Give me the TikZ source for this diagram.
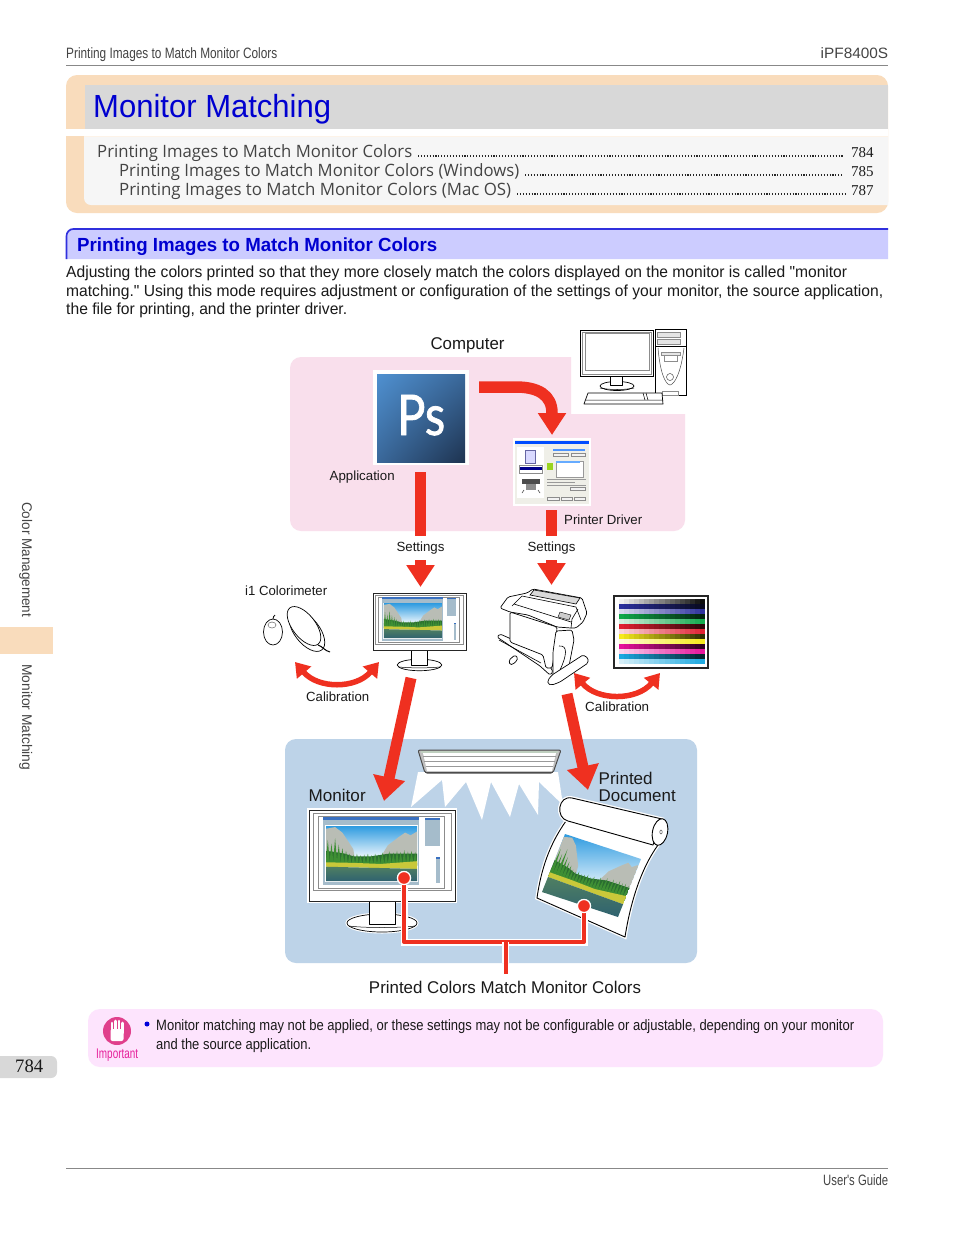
\documentclass[tikz,border=0pt]{standalone}
\usepackage{fontspec}
\usepackage{graphicx}
\setmainfont{Liberation Sans}
\newfontfamily\plainf{Liberation Sans}
\newfontfamily\tocf{Open Sans}
\newfontfamily\serf{Liberation Serif}
\newfontfamily\psf[FakeBold=1.3]{Lato}
\usetikzlibrary{arrows.meta,shapes.geometric,shadings}
\definecolor{peach}{HTML}{F9DCBC}
\definecolor{titlegray}{HTML}{D8D8D8}
\definecolor{tocbg}{HTML}{F6F6F6}
\definecolor{titleblue}{HTML}{0000D0}
\definecolor{secbg}{HTML}{CCCCFF}
\definecolor{secline}{HTML}{3030DD}
\definecolor{ink}{HTML}{1A1A1A}
\definecolor{greytext}{HTML}{444444}
\definecolor{hair}{HTML}{888888}
\definecolor{pinkpanel}{HTML}{F9DFEC}
\definecolor{bluepanel}{HTML}{BDD3E8}
\definecolor{arrowred}{HTML}{EF3020}
\definecolor{notebg}{HTML}{FDE4FD}
\definecolor{notemag}{HTML}{E6209A}
\definecolor{iconmag}{HTML}{E0408C}
\definecolor{panelblue}{HTML}{A5BCCB}
\definecolor{barblue}{HTML}{3A70C0}
\definecolor{cbl}{HTML}{2A2F9C}
\definecolor{cgr}{HTML}{0FA84A}
\definecolor{crd}{HTML}{E01F30}
\definecolor{cyl}{HTML}{F6EA1A}
\definecolor{cmg}{HTML}{E6109A}
\definecolor{ccy}{HTML}{1AA8E0}
\definecolor{psa}{HTML}{4F90D0}
\definecolor{psb}{HTML}{3A689A}
\definecolor{psc}{HTML}{1E3350}
\definecolor{skytop}{HTML}{2E9BE0}
\definecolor{rock}{HTML}{B9BDB5}
\definecolor{treeg}{HTML}{3E8F34}
\definecolor{treed}{HTML}{2A6E30}
\definecolor{meadow}{HTML}{C9C83A}
\definecolor{watera}{HTML}{4F7F62}
\definecolor{waterb}{HTML}{2F6270}
\definecolor{winbg}{HTML}{EFEFE8}
\newcommand\fw[2]{\resizebox{#1pt}{\height}{#2}}
\newcommand\fs[1]{\fontsize{#1pt}{#1pt}\selectfont}
\tikzset{
  x=1pt,y=-1pt,
  txt/.style={inner sep=0pt,anchor=base west,text=ink},
  hit/.style={inner sep=0pt,outer sep=0pt},
  linea/.style={draw=black,line width=0.7pt,fill=white,line join=round},
  thin gray/.style={draw=black!45,line width=0.5pt},
  stemline/.style={draw=arrowred,line width=11pt},
  bigarrow/.style={draw=arrowred,line width=11pt,-{Triangle[length=22pt,width=27pt]}},
  diagarrow/.style={draw=arrowred,line width=11pt,-{Triangle[length=24pt,width=31pt]}},
  calib/.style={draw=arrowred,line width=5.5pt,{Triangle[length=14pt,width=18pt]}-{Triangle[length=14pt,width=18pt]}},
  halo/.style={preaction={draw=white,line width=7pt}},
  teeline/.style={draw=arrowred,line width=4pt,line join=round},
  lbl/.style={inner sep=0pt,text=ink},
  reddot/.style={circle,fill=arrowred,draw=white,line width=1.2pt,minimum size=13pt,inner sep=0pt},
  dotrule/.style={black!85,line width=1.1pt,dash pattern=on 1.1pt off 1.8pt},
}
\newcommand\scenery{%
  \clip (0,0)--(1,0)--(1,1)--(0,1)--cycle;
  \shade[top color=skytop,bottom color=white] (0,0)--(1,0)--(1,.62)--(0,.62)--cycle;
  \fill[rock] (0,.05)--(.1,.02)--(.18,.12)--(.3,.42)--(.32,.62)--(0,.62)--cycle;
  \fill[rock] (.58,.62)--(.68,.35)--(.8,.2)--(.87,.12)--(.93,.17)--(1,.1)--(1,.62)--cycle;
  \fill[treed] (0,.45)--(.2,.5)--(.3,.55)--(.5,.55)--(.7,.5)--(1,.5)--(1,.72)--(0,.72)--cycle;
  \foreach \tx/\th in {.02/.25,.06/.32,.1/.22,.14/.34,.18/.4,.22/.45,.26/.5,.3/.52,.34/.5,.38/.53,.42/.52,.46/.5,.5/.53,.54/.5,.58/.52,.62/.48,.66/.5,.7/.46,.74/.48,.78/.45,.82/.47,.86/.44,.9/.46,.94/.45,.98/.47}{
    \fill[treeg] (\tx-.025,.72) -- (\tx,\th) -- (\tx+.025,.72) -- cycle;
  }
  \fill[meadow] (0,.66)--(.3,.67)--(.6,.69)--(1,.64)--(1,.78)--(.5,.76)--(0,.74)--cycle;
  \shade[top color=watera,bottom color=waterb] (0,.74)--(.5,.76)--(1,.78)--(1,1)--(0,1)--cycle;
}
\newcommand\displayunit{%
  \path[linea] (73,113) ellipse [x radius=35,y radius=9];
  \path[linea] (60,85) rectangle (86,114);
  \draw[black,line width=0.5pt] (40,116) .. controls (55,118) and (90,118) .. (106,116);
  \path[draw=black!85,fill=white,line width=1pt] (0,0) rectangle (146,91);
  \draw[thin gray] (4,3) rectangle (142,80);
  \draw[thin gray] (9,6) rectangle (135,78);
  \fill[panelblue] (14,7) rectangle (110,75);
  \fill[barblue] (14,7) rectangle (110,9.5);
  \fill[white] (16,15) rectangle (109,72);
  \begin{scope}[shift={(17,16)},x={(91pt,0pt)},y={(0pt,-55pt)}]\scenery\end{scope}
  \fill[panelblue] (116,8) rectangle (131,36);
  \fill[barblue] (116,8) rectangle (131,10);
  \fill[panelblue] (127,47) rectangle (131,73);
  \fill[barblue] (127,47) rectangle (131,49);
}
\begin{document}
\begin{tikzpicture}
\useasboundingbox (0,0) rectangle (954,1235);
\fill[white] (0,0) rectangle (954,1235);
% header
\node[txt,text=greytext] (hdl) at (66,58) {\fs{15}\fw{211}{Printing Images to Match Monitor Colors}};
\node[txt,text=greytext] (hdr) at (820.5,58) {\fs{15}\fw{67.5}{iPF8400S}};
\draw[hair,line width=0.8pt] (66,65.5) -- (888,65.5);
% chapter panel
\fill[peach,rounded corners=11pt] (66,75) rectangle (888,213);
\fill[white] (66,129) rectangle (888,136);
\fill[titlegray] (85,129) -- (85,84.5) -- (888,84.5) -- (888,129) -- cycle;
\fill[tocbg] (84,136) [rounded corners=7pt] -- (84,205) [sharp corners] -- (888,205) -- (888,136) -- cycle;
\fill[peach!35!white] (84,136) rectangle (888,137);
\node[txt,text=titleblue] (ttl) at (93,117) {\fs{32}\fw{238}{Monitor Matching}};
\node[txt,text=greytext] (toc1) at (97,157) {\tocf\fs{17}\fw{315}{Printing Images to Match Monitor Colors}};
\node[txt,text=greytext] (toc2) at (119,176) {\tocf\fs{17}\fw{400}{Printing Images to Match Monitor Colors (Windows)}};
\node[txt,text=greytext] (toc3) at (119,195) {\tocf\fs{17}\fw{392}{Printing Images to Match Monitor Colors (Mac OS)}};
\draw[dotrule] (418,156) -- (843,156);
\draw[dotrule] (525,175) -- (842,175);
\draw[dotrule] (517,194) -- (845,194);
\node[txt] (p1) at (851,157) {\serf\fs{15}784};
\node[txt] (p2) at (851,176) {\serf\fs{15}785};
\node[txt] (p3) at (851,195) {\serf\fs{15}787};
% section heading
\fill[secbg] (66,259) [rounded corners=7pt] -- (66,228) [sharp corners] -- (888,228) -- (888,259) -- cycle;
\draw[secline,line width=1.6pt] (66.5,259) [rounded corners=7pt] -- (66.5,229) [sharp corners] -- (888,229);
\node[txt,text=titleblue] (sec) at (77,251) {\bfseries\fs{19}\fw{360}{Printing Images to Match Monitor Colors}};
% paragraph
\node[txt] (l1) at (66,277) {\plainf\fs{16}\fw{781}{Adjusting the colors printed so that they more closely match the colors displayed on the monitor is called "monitor}};
\node[txt] (l2) at (66,296) {\plainf\fs{16}\fw{817}{matching." Using this mode requires adjustment or configuration of the settings of your monitor, the source application,}};
\node[txt] (l3) at (66,314) {\fs{16}\fw{281}{the file for printing, and the printer driver.}};
% side tab
\node[txt,text=greytext,rotate=-90] (sd1) at (22,502) {\fs{14}\fw{115}{Color Management}};
\fill[peach] (0,627) rectangle (53,654);
\node[txt,text=greytext,rotate=-90] (sd2) at (22,664) {\fs{14}\fw{106}{Monitor Matching}};
% computer panel
\fill[pinkpanel] (571,414) -- (571,357) [rounded corners=11pt] -- (290,357) -- (290,531) -- (685,531) [sharp corners] -- (685,414) -- cycle;
\node[lbl] (cmp) at (467.5,345) {\fs{17}\fw{74}{Computer}};
% computer icon
\node[hit,minimum width=106pt,minimum height=75pt] (pc) at (633,367) {};
\path[draw=black,fill=white,line width=1pt] (580,330) rectangle (653,376);
\draw[thin gray] (582,332) rectangle (651,374);
\draw[thin gray] (585,333) rectangle (649,370);
\path[linea] (617,386) ellipse [x radius=17,y radius=4.5];
\path[linea] (610,376) rectangle (622,385);
\draw[black,line width=.5pt] (600,388) .. controls (610,390) and (625,390) .. (634,388);
\path[draw=black,fill=white,line width=1pt] (655,329) rectangle (686,395);
\draw[black,line width=1pt] (655,346) -- (686,346);
\draw[thin gray,fill=black!10] (657,332) rectangle (680,337);
\draw[thin gray,fill=black!10] (657,339) rectangle (680,344);
\draw[thin gray,fill=black!10] (661,352) rectangle (680,355);
\draw[thin gray] (664,355) rectangle (677,361);
\draw[black!70,line width=.5pt] (658,348) .. controls (660,372) and (665,384) .. (670,385) .. controls (675,384) and (681,372) .. (684,348);
\draw[black!70,line width=.5pt] (670,377) circle [radius=3.5];
\draw[thin gray] (662,391) rectangle (678,395);
\path[linea] (588,393) -- (662,393) -- (663,404) -- (584,404) -- cycle;
\draw[black,line width=.5pt] (586,400) -- (663,400) (643,393) -- (645,400) (646,393)--(648,400);
% photoshop icon
\node[hit,fill=white,minimum width=96pt,minimum height=95pt] (ps) at (421,417.5) {};
\shade[upper left=psa,upper right=psb,lower left=psb,lower right=psc] (377,374) rectangle (465,462);
\node[txt,text=white] (pst) at (397,435) {\psf\fs{56}\fw{48}{Ps}};
\node[lbl,anchor=base west] (app) at (329.5,480.5) {\fs{13.3}\fw{65}{Application}};
% printer driver window
\node[hit,fill=white,minimum width=78pt,minimum height=68pt] (drv) at (552,472) {};
\fill[winbg] (515,440) rectangle (589,504);
\fill[blue!70!cyan] (515,441) rectangle (589,443.5);
\fill[white] (517,447) rectangle (544,498);
\fill[blue!15!white] (525,450) rectangle (535,463);
\draw[blue!40!black!60,line width=.3pt] (525,450) rectangle (535,463);
\fill[blue!55!black] (519,467) rectangle (542,470);
\draw[thin gray] (519,465) rectangle (542,473);
\fill[black!70] (522,479) rectangle (540,484);
\fill[black!45] (526,484) rectangle (536,490);
\draw[black!70,line width=.6pt] (524,490) -- (522,493) (538,490) -- (540,493);
\fill[blue!60!cyan!70] (553,449) rectangle (585,451);
\draw[thin gray,fill=black!5] (553,453) rectangle (568,456);
\draw[thin gray,fill=black!5] (571,453) rectangle (585,456);
\fill[white] (556,461) rectangle (583,477);
\draw[black!40,line width=.3pt] (556,461) rectangle (583,477);
\fill[blue!55!cyan!60] (556,461) rectangle (580,463);
\fill[yellow!60!green] (547,463) rectangle (553,470);
\draw[black!40,line width=.3pt] (547,479) -- (586,479) (547,482) -- (575,482) (547,485) -- (586,485);
\draw[thin gray,fill=black!5] (570,487) rectangle (585,490);
\draw[thin gray,fill=black!5] (547,497) rectangle (559,500);
\draw[thin gray,fill=black!5] (561,497) rectangle (572,500);
\draw[thin gray,fill=black!5] (574,497) rectangle (585,500);
\node[lbl,anchor=base west] (drvt) at (564,524) {\fs{13.3}\fw{78}{Printer Driver}};
% settings labels
\node[lbl,minimum height=24pt] (set1) at (420.5,548) {\fs{13.3}\fw{48}{Settings}};
\node[lbl,minimum height=24pt] (set2) at (551.5,548) {\fs{13.3}\fw{48}{Settings}};
% colorimeter
\node[lbl,anchor=base west] (cm) at (245,595) {\fs{13.3}\fw{82}{i1 Colorimeter}};
\node[hit,minimum width=70pt,minimum height=42pt] (colm) at (296,632) {};
\path[linea] (273,632) ellipse [x radius=9.5,y radius=13];
\draw[black!60,line width=.5pt] (272,625) ellipse [x radius=4,y radius=3];
\draw[black,line width=.8pt] (273,619) .. controls (273,617) and (274,616) .. (275,615);
\path[linea] (307,631) ellipse [x radius=24,y radius=12.5,rotate=-52];
\path[linea] (304,626) ellipse [x radius=23,y radius=11.5,rotate=-52];
\draw[black,line width=1pt] (318,645) .. controls (322,646) and (325,651) .. (330,652);
% monitor 1
\node[hit,minimum width=93pt,minimum height=59pt] (mon1) at (419.5,622.5) {};
\begin{scope}[shift={(373,593)},scale=0.637]\displayunit\end{scope}
% printer
\node[hit,minimum width=93pt,minimum height=95pt] (prn) at (541.5,636.5) {};
\begin{scope}[rounded corners=1.5pt]
\path[linea] (497,637) -- (500,634) -- (543,653) -- (553,672) -- (550,675) -- (540,666) -- cycle;
\draw[black,line width=.6pt] (499,640) -- (541,663);
\path[linea] (510,612) -- (510,642) -- (543,655) -- (546,668) -- (552,668) -- (556,645) -- (557,627) -- cycle;
\path[linea] (556,631) -- (572,630) -- (574,640) -- (569,666) -- (569,672) -- (553,676) -- (553,652) -- cycle;
\draw[black,line width=.6pt] (559,646) .. controls (568,645) and (567,655) .. (560,670);
\path[linea] (509,660) -- (515,655) -- (518,658) -- (515,663) -- (510,665) -- cycle;
\path[linea] (548,680) -- (552,675) -- (583,655) -- (588,658) -- (588,663) -- (560,682) -- (552,685) -- (548,684) -- cycle;
\path[linea] (500,608) -- (508,597) -- (527,593) -- (533,589) -- (582,598) -- (587,613) -- (583,622) -- (576,628) -- (571,628) -- (557,627) -- (528,615) -- (510,612) -- cycle;
\end{scope}
\path[draw=black,fill=black!15,line width=.6pt] (530,595) -- (534,590) -- (580,598) -- (576,604) -- cycle;
\draw[black,line width=.6pt] (512,606) -- (522,596) (522,596) -- (576,607) -- (581,620) (514,604) -- (571,622) (571,628) -- (572,619) -- (578,609);
\path[draw=black,fill=black!20,line width=.4pt] (560,612) -- (571,615) -- (569,620) -- (558,617) -- cycle;
% colour chart
\node[hit,draw=black!85,fill=white,line width=1.1pt,minimum width=94pt,minimum height=72pt] (chart) at (661,632) {};
\foreach \i in {0,...,16}{
  \pgfmathtruncatemacro\q{\i*5.6+6}
  \fill[black!\q!white] ({619+\i*5.06},599) rectangle ++(5.2,5.1);
}
\foreach \c [count=\n] in {cbl,cgr,crd,cyl,cmg,ccy}{
  \foreach \i in {0,...,16}{
    \pgfmathtruncatemacro\p{100-\i*5}
    \pgfmathtruncatemacro\q{min(100,\i*5+18)}
    \fill[\c!\p!black] ({619+\i*5.06},{599+(2*\n-1)*5}) rectangle ++(5.2,5.1);
    \fill[\c!\q!white] ({619+\i*5.06},{599+2*\n*5}) rectangle ++(5.2,5.1);
  }
}
% calibration
\node[lbl,anchor=base west] (cal1) at (306,701) {\fs{13.3}\fw{63}{Calibration}};
\node[lbl,anchor=base west] (cal2) at (585,711) {\fs{13.3}\fw{64}{Calibration}};
\coordinate (caA) at (295,662);
\coordinate (caB) at (379,662);
\coordinate (caC) at (574,673);
\coordinate (caD) at (660,673);
\draw[calib] (caA) .. controls (318,689) and (356,689) .. (caB);
\draw[calib] (caC) .. controls (597,701) and (637,701) .. (caD);
% blue panel
\fill[bluepanel,rounded corners=11pt] (285,739) rectangle (697,963);
\fill[white] (411,807) -- (418,772) -- (558,772) -- (563,805) -- (539,782) -- (538,815) -- (519,784) -- (510,817) -- (491,782) -- (482,820) -- (466,782) -- (445,807) -- (442,780) -- cycle;
% lamp
\node[hit,minimum width=144pt,minimum height=23pt] (lamp) at (490,761.5) {};
\path[draw=black!70,fill=black!25,line width=1pt,line join=round,rounded corners=2pt] (418,750) -- (561,750) -- (553,773) -- (425,773) -- cycle;
\fill[white] (423,753) -- (556,753) -- (552,771) -- (427,771) -- cycle;
\fill[green!25!black!25] (421,751) rectangle (558,753);
\draw[black!40,line width=.5pt] (423,756) -- (556,756) (424,761) -- (555,761) (426,766) -- (553,766);
\draw[black!70,line width=1.2pt] (425,772.5) -- (553,772.5);
% monitor 2
\node[hit,minimum width=146pt,minimum height=91pt] (mon2) at (382,855.5) {};
\fill[white] (307,808) rectangle (457,903);
\begin{scope}[shift={(309,810)}]
  \path[draw=white,line width=3pt] (73,113) ellipse [x radius=35,y radius=9];
  \displayunit
\end{scope}
% printed document
\node[hit,minimum width=130pt,minimum height=139pt] (doc) at (603,867.5) {};
\path[draw=black,fill=white,line width=.9pt,line join=round,preaction={draw=white,line width=3.5pt}] (566,821) .. controls (549,845) and (541,870) .. (537,898) -- (625,937) .. controls (630,905) and (640,870) .. (658,845) -- cycle;
\begin{scope}[shift={(565,834)},x={(76pt,-25pt)},y={(-23pt,-58pt)}]\scenery\end{scope}
\path[draw=black,fill=white,line width=.9pt,line join=round,preaction={draw=white,line width=3.5pt}] (572,798) .. controls (558,795) and (555,818) .. (568,821) -- (653,845) -- (662,819) -- cycle;
\path[draw=black,fill=white,line width=.9pt] (660,832) ellipse [x radius=7.5,y radius=13.5,rotate=-12];
\draw[black!70,line width=.5pt] (661,832) ellipse [x radius=1.2,y radius=2];
% match connector
\node[reddot] (dotM) at (404,878) {};
\node[reddot] (dotD) at (584,906) {};
\node[lbl,minimum height=26pt] (pcm) at (505,987) {\fs{17}\fw{272}{Printed Colors Match Monitor Colors}};
\coordinate (tee) at (505.5,942);
\draw[teeline,halo] (dotM) -- (404,942) -- (584,942) -- (dotD);
\node[reddot] (dotMb) at (dotM) {};
\node[reddot] (dotDb) at (dotD) {};
\draw[draw=white,line width=7pt] (tee) -- (505.5,963);
\draw[teeline] (tee) -- (tee |- pcm.north);
% big arrows
\coordinate (appOut) at (479,387);
\coordinate (drvIn) at (552,435);
\coordinate (bendA) at (552,413);
\draw[draw=arrowred,line width=11.5pt,-{Triangle[length=22pt,width=27pt]}] (appOut) -- (516,387) .. controls (538,387) and (552,395) .. (bendA) -- (drvIn);
\draw[stemline,shorten <=7pt] (set1.north |- ps.south) -- (set1.north);
\draw[bigarrow,shorten >=6pt] (set1.south) -- (set1.south |- mon1.north);
\draw[stemline,shorten <=4pt] (set2.north |- drv.south) -- (set2.north);
\draw[bigarrow,shorten >=4pt] (set2.south) -- (set2.south |- prn.north);
\coordinate (mA) at (411,678);
\coordinate (mB) at (384,801);
\coordinate (pA) at (567,694);
\coordinate (pB) at (588,790);
\draw[diagarrow] (mA) -- (mB);
\draw[diagarrow] (pA) -- (pB);
% panel labels
\node[lbl,anchor=base west] (mlab) at (308.5,801) {\fs{17}\fw{57}{Monitor}};
\node[lbl,anchor=base west] (dl1) at (598.5,784) {\fs{17}\fw{54}{Printed}};
\node[lbl,anchor=base west] (dl2) at (598.5,801) {\fs{17}\fw{77}{Document}};
% note
\fill[notebg,rounded corners=12pt] (88,1009) rectangle (883,1067);
\fill[iconmag] (117,1031) circle [radius=14];
\fill[white,rounded corners=2pt] (110.5,1029) rectangle (123.5,1041);
\foreach \xf/\yf in {112/1023,115.5/1021,119/1021,122.3/1023}{\draw[white,line width=2.6pt,line cap=round] (\xf,\yf) -- (\xf,1033);}
\node[txt,text=notemag] (imp) at (96,1058) {\fs{14}\fw{42}{Important}};
\fill[blue!85!black] (147,1024) circle [radius=2.5];
\node[txt] (n1) at (156,1030) {\fs{15}\fw{698}{Monitor matching may not be applied, or these settings may not be configurable or adjustable, depending on your monitor}};
\node[txt] (n2) at (156,1049) {\fs{15}\fw{155}{and the source application.}};
% page number
\fill[titlegray] (0,1056) [sharp corners] -- (50,1056) [rounded corners=6pt] -- (57,1056) -- (57,1078) [sharp corners] -- (0,1078) -- cycle;
\node[txt] (pg) at (15,1072) {\serf\fs{19}\fw{28}{784}};
% footer
\draw[hair,line width=0.8pt] (66,1168.5) -- (888,1168.5);
\node[txt,text=greytext] (ftr) at (823,1185) {\plainf\fs{15}\fw{65}{User's Guide}};
\end{tikzpicture}
\end{document}
